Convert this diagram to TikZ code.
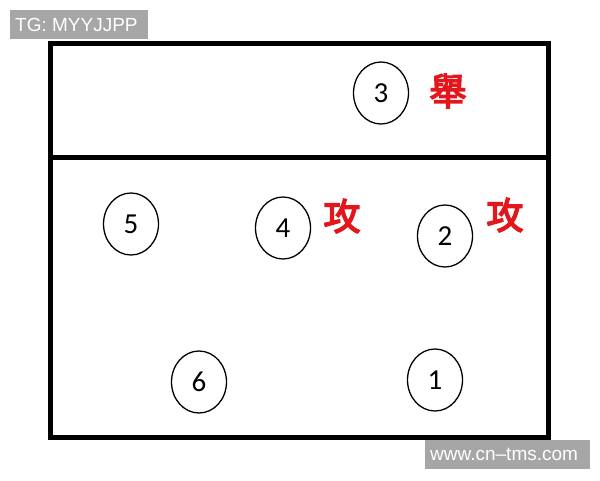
\documentclass[tikz,border=0pt]{standalone}
\usepackage{fontspec}
\setmainfont{Carlito}
\newfontfamily\labelfont{Liberation Sans}
\newfontfamily\cjk[FakeBold=4]{Noto Sans CJK TC}
\usetikzlibrary{shapes.geometric}
\definecolor{markred}{HTML}{E3161C}
\definecolor{taggray}{HTML}{A6A6A6}

\begin{document}
\begin{tikzpicture}[x=1pt,y=-1pt,
    player/.style={draw,ellipse,line width=1.3pt,minimum width=55pt,minimum height=62pt,inner sep=0pt,font=\fontsize{29}{29}\selectfont},
    role/.style={text=markred,inner sep=0pt,font=\cjk\fontsize{37}{37}\selectfont},
    tagtext/.style={text=white,inner sep=0pt,anchor=west,font=\labelfont\fontsize{19}{19}\selectfont}]
    \useasboundingbox (0,0) rectangle (600,480);

    % Court
    \draw[line width=5pt] (50.5,43.5) rectangle (548,437.5);
    \draw[line width=5pt] (50.5,157) -- (548,157);

    % Front row area
    \node[player] (p3) at (381,93) {3};
    \node[role] (set) at (448,91) {舉};

    % Attackers
    \node[player] (p5) at (131,224) {5};
    \node[player] (p4) at (283,228) {4};
    \node[role] (att4) at (342,216) {攻};
    \node[player] (p2) at (445,236) {2};
    \node[role] (att2) at (505,215) {攻};

    % Back row
    \node[player] (p6) at (199,382) {6};
    \node[player] (p1) at (435,380) {1};

    % Tags
    \fill[taggray] (10,10) rectangle (148,39);
    \node[tagtext] (tg) at (15,24.5) {TG: MYYJJPP};
    \fill[taggray] (425,440) rectangle (590,469);
    \node[tagtext] (site) at (430,454.5) {www.cn–tms.com};
\end{tikzpicture}
\end{document}
